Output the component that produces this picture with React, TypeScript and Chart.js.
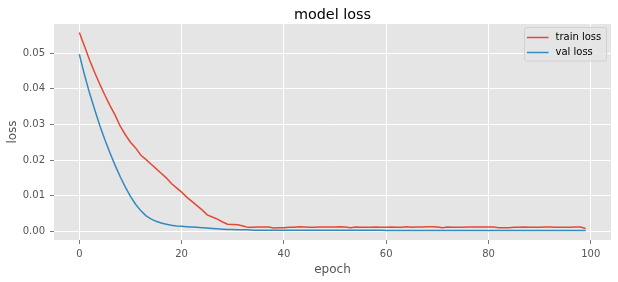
import React, { useEffect, useRef } from "react";
import { Chart, registerables } from "chart.js";

Chart.register(...registerables);

const trainLoss = [
  0.0558, 0.0520, 0.0481, 0.0446, 0.0413, 0.0382, 0.0353, 0.0326, 0.0295, 0.0271,
  0.0250, 0.0234, 0.0214, 0.0202, 0.0189, 0.0176, 0.0163, 0.0150, 0.0134, 0.0122,
  0.0110, 0.0096, 0.0084, 0.0072, 0.0060, 0.0046, 0.0040, 0.0034, 0.0026, 0.0020,
  0.0019, 0.0018, 0.0015, 0.0011, 0.0011, 0.0012, 0.0012, 0.0012, 0.0009, 0.0010,
  0.0010, 0.0011, 0.0011, 0.0013, 0.0012, 0.0011, 0.0011, 0.0012, 0.0012, 0.0012,
  0.0012, 0.0013, 0.0012, 0.0010, 0.0012, 0.0011, 0.0011, 0.0011, 0.0012, 0.0011,
  0.0011, 0.0012, 0.0011, 0.0011, 0.0013, 0.0011, 0.0012, 0.0012, 0.0013, 0.0013,
  0.0012, 0.0010, 0.0012, 0.0011, 0.0011, 0.0011, 0.0012, 0.0012, 0.0012, 0.0012,
  0.0012, 0.0012, 0.0010, 0.0010, 0.0010, 0.0011, 0.0011, 0.0012, 0.0011, 0.0011,
  0.0011, 0.0012, 0.0012, 0.0011, 0.0011, 0.0011, 0.0011, 0.0012, 0.0012, 0.0008,
];

const valLoss = [
  0.0497, 0.0440, 0.0388, 0.0342, 0.0297, 0.0257, 0.0220, 0.0185, 0.0153, 0.0124,
  0.0098, 0.0076, 0.0058, 0.0044, 0.0035, 0.0028, 0.0023, 0.0020, 0.0017, 0.0015,
  0.0014, 0.0013, 0.0012, 0.0011, 0.0010, 0.0009, 0.0008, 0.0007, 0.0006, 0.0005,
  0.0005, 0.0004, 0.0004, 0.0004, 0.0003, 0.0003, 0.0003, 0.0003, 0.0003, 0.0003,
  0.0003, 0.0003, 0.0003, 0.0003, 0.0003, 0.0003, 0.0003, 0.0003, 0.0003, 0.0003,
  0.0003, 0.0003, 0.0003, 0.0003, 0.0003, 0.0003, 0.0003, 0.0003, 0.0003, 0.0003,
  0.0002, 0.0002, 0.0002, 0.0002, 0.0002, 0.0002, 0.0002, 0.0002, 0.0002, 0.0002,
  0.0002, 0.0002, 0.0002, 0.0002, 0.0002, 0.0002, 0.0002, 0.0002, 0.0002, 0.0002,
  0.0002, 0.0002, 0.0002, 0.0002, 0.0002, 0.0002, 0.0002, 0.0002, 0.0002, 0.0002,
  0.0002, 0.0002, 0.0002, 0.0002, 0.0002, 0.0002, 0.0002, 0.0002, 0.0002, 0.0002,
];

const xTickValues = [0, 20, 40, 60, 80, 100];
const xTickLabels = ["0", "20", "40", "60", "80", "100"];
const yTickValues = [0, 0.01, 0.02, 0.03, 0.04, 0.05];
const yTickLabels = ["0.00", "0.01", "0.02", "0.03", "0.04", "0.05"];
const seriesNames = ["train loss", "val loss"];
const chartTitle = "model loss";
const xTitle = "epoch";
const yTitle = "loss";

const RED = "#E24A33";
const BLUE = "#348ABD";
const FONT = "'DejaVu Sans', sans-serif";

export default function App() {
  const ref = useRef<HTMLCanvasElement | null>(null);

  useEffect(() => {
    const canvas = ref.current;
    if (!canvas) return;

    const bgPlugin = {
      id: "bg",
      beforeDraw(chart: any) {
        const { ctx, chartArea: a } = chart;
        ctx.save();
        ctx.fillStyle = "#E5E5E5";
        ctx.fillRect(a.left, a.top, a.right - a.left, a.bottom - a.top);
        ctx.restore();
      },
    };

    const overlayPlugin = {
      id: "overlay",
      afterDraw(chart: any) {
        const { ctx, chartArea: a } = chart;
        ctx.save();
        // title
        ctx.fillStyle = "#000000";
        ctx.font = `14.4px ${FONT}`;
        ctx.textAlign = "center";
        ctx.textBaseline = "alphabetic";
        ctx.fillText(chartTitle, (a.left + a.right) / 2, 18.5);

        // legend
        const lx = 524.5, ly = 27.5, lw = 82, lh = 33.5, r = 2.5;
        ctx.beginPath();
        ctx.moveTo(lx + r, ly);
        ctx.lineTo(lx + lw - r, ly);
        ctx.arcTo(lx + lw, ly, lx + lw, ly + r, r);
        ctx.lineTo(lx + lw, ly + lh - r);
        ctx.arcTo(lx + lw, ly + lh, lx + lw - r, ly + lh, r);
        ctx.lineTo(lx + r, ly + lh);
        ctx.arcTo(lx, ly + lh, lx, ly + lh - r, r);
        ctx.lineTo(lx, ly + r);
        ctx.arcTo(lx, ly, lx + r, ly, r);
        ctx.closePath();
        ctx.fillStyle = "rgba(229,229,229,0.8)";
        ctx.fill();
        ctx.strokeStyle = "rgba(204,204,204,0.8)";
        ctx.lineWidth = 1;
        ctx.stroke();

        const colors = [RED, BLUE];
        const rows = [37.5, 52.5];
        ctx.font = `10px ${FONT}`;
        ctx.textAlign = "left";
        ctx.textBaseline = "middle";
        seriesNames.forEach((name, i) => {
          ctx.strokeStyle = colors[i];
          ctx.lineWidth = 1.5;
          ctx.beginPath();
          ctx.moveTo(527, rows[i]);
          ctx.lineTo(548.5, rows[i]);
          ctx.stroke();
          ctx.fillStyle = "#000000";
          ctx.fillText(name, 555.5, rows[i]);
        });
        ctx.restore();
      },
    };

    const chart = new Chart(canvas, {
      type: "line",
      data: {
        datasets: [
          {
            label: seriesNames[0],
            data: trainLoss.map((v, i) => ({ x: i, y: v })),
            borderColor: RED,
            backgroundColor: RED,
            borderWidth: 1.5,
            pointRadius: 0,
            tension: 0,
          },
          {
            label: seriesNames[1],
            data: valLoss.map((v, i) => ({ x: i, y: v })),
            borderColor: BLUE,
            backgroundColor: BLUE,
            borderWidth: 1.5,
            pointRadius: 0,
            tension: 0,
          },
        ],
      },
      options: {
        animation: false,
        responsive: false,
        devicePixelRatio: 1,
        layout: { padding: { top: 24, right: 7, left: 0, bottom: 0 } },
        plugins: {
          legend: { display: false },
          title: { display: false },
          tooltip: { enabled: false },
        },
        scales: {
          x: {
            type: "linear",
            min: -4.95,
            max: 103.95,
            afterBuildTicks(scale: any) {
              scale.ticks = xTickValues.map((v) => ({ value: v }));
            },
            afterFit(scale: any) {
              scale.height = 42;
            },
            ticks: {
              color: "#555555",
              font: { family: FONT, size: 10 },
              padding: 4,
              maxRotation: 0,
              autoSkip: false,
              callback: (v: any) => {
                const idx = xTickValues.indexOf(Number(v));
                return idx >= 0 ? xTickLabels[idx] : "";
              },
            },
            grid: {
              color: "#FFFFFF",
              lineWidth: 1,
              tickColor: "#555555",
              tickLength: 4,
              tickWidth: 0.8,
            },
            border: { display: false },
            title: {
              display: true,
              text: xTitle,
              color: "#555555",
              font: { family: FONT, size: 12 },
              padding: { top: 0, bottom: 5 },
            },
          },
          y: {
            type: "linear",
            min: -0.00245,
            max: 0.0582,
            afterBuildTicks(scale: any) {
              scale.ticks = yTickValues.map((v) => ({ value: v }));
            },
            afterFit(scale: any) {
              scale.width = 54;
            },
            ticks: {
              color: "#555555",
              font: { family: FONT, size: 10 },
              padding: 5,
              autoSkip: false,
              callback: (v: any) => {
                const idx = yTickValues.findIndex((t) => Math.abs(t - Number(v)) < 1e-9);
                return idx >= 0 ? yTickLabels[idx] : "";
              },
            },
            grid: {
              color: "#FFFFFF",
              lineWidth: 1,
              tickColor: "#555555",
              tickLength: 4,
              tickWidth: 0.8,
            },
            border: { display: false },
            title: {
              display: true,
              text: yTitle,
              color: "#555555",
              font: { family: FONT, size: 12 },
              padding: { top: 6, bottom: 0 },
            },
          },
        },
      },
      plugins: [bgPlugin, overlayPlugin],
    } as any);

    return () => chart.destroy();
  }, []);

  return (
    <div style={{ position: "fixed", left: 0, top: 0, width: 618, height: 282, background: "#FFFFFF" }}>
      <canvas ref={ref} width={618} height={282} style={{ width: 618, height: 282, display: "block" }} />
    </div>
  );
}
